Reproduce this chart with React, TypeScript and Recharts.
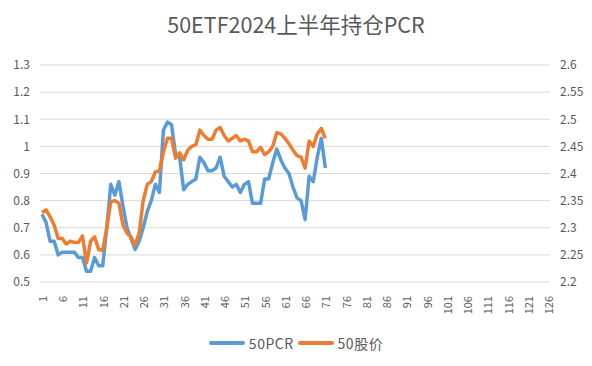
import { CartesianGrid, Line, LineChart, XAxis, YAxis } from "recharts";

const TOTAL_DAYS = 126;

// 50ETF put/call ratio (left axis)
const pcr = [
  0.75, 0.72, 0.65, 0.65, 0.6, 0.61, 0.61, 0.61, 0.61, 0.59,
  0.59, 0.54, 0.54, 0.59, 0.56, 0.56, 0.7, 0.86, 0.82, 0.87,
  0.78, 0.7, 0.66, 0.62, 0.65, 0.7, 0.76, 0.8, 0.86, 0.83,
  1.06, 1.09, 1.08, 0.97, 0.96, 0.84, 0.86, 0.87, 0.88, 0.96,
  0.94, 0.91, 0.91, 0.92, 0.96, 0.89, 0.87, 0.85, 0.86, 0.83,
  0.86, 0.87, 0.79, 0.79, 0.79, 0.88, 0.88, 0.94, 0.99, 0.95,
  0.92, 0.9, 0.85, 0.81, 0.8, 0.73, 0.89, 0.87, 0.96, 1.03,
  0.92,
];

// 50ETF price (right axis)
const price = [
  2.328, 2.333, 2.32, 2.305, 2.28, 2.28, 2.27, 2.275, 2.273, 2.273,
  2.285, 2.235, 2.275, 2.283, 2.26, 2.258, 2.3, 2.348, 2.35, 2.345,
  2.305, 2.29, 2.283, 2.268, 2.29, 2.35, 2.38, 2.385, 2.403, 2.405,
  2.44, 2.465, 2.465, 2.428, 2.438, 2.425, 2.443, 2.45, 2.453, 2.48,
  2.47, 2.463, 2.463, 2.48, 2.485, 2.47, 2.46, 2.465, 2.47, 2.46,
  2.463, 2.46, 2.44, 2.44, 2.448, 2.435, 2.44, 2.45, 2.475, 2.473,
  2.465, 2.455, 2.443, 2.433, 2.43, 2.41, 2.46, 2.45, 2.473, 2.483,
  2.465,
];

const leftTicks = [0.5, 0.6, 0.7, 0.8, 0.9, 1, 1.1, 1.2, 1.3];
const rightTicks = [2.2, 2.25, 2.3, 2.35, 2.4, 2.45, 2.5, 2.55, 2.6];

const BLUE = "#5B9BD5";
const ORANGE = "#ED7D31";
const TEXT = "#595959";
const FONT = "'Noto Sans CJK SC', 'Noto Sans', sans-serif";

const data = Array.from({ length: TOTAL_DAYS }, (_, i) => ({
  day: String(i + 1),
  pcr: i < pcr.length ? pcr[i] : null,
  price: i < price.length ? price[i] : null,
}));

function DayTick(props: any) {
  const { x, y, payload } = props;
  return (
    <text
      x={x}
      y={y + 6}
      transform={`rotate(-90 ${x} ${y + 6})`}
      textAnchor="end"
      dominantBaseline="central"
      fontSize={11}
      fill={TEXT}
      fontFamily={FONT}
    >
      {payload.value}
    </text>
  );
}

const swatch = (color: string) => ({
  display: "inline-block",
  width: 36,
  height: 4,
  borderRadius: 2,
  background: color,
  marginRight: 4,
});

export default function App() {
  return (
    <div style={{ position: "absolute", left: 0, top: 0, width: 592, height: 366, background: "#fff", fontFamily: FONT }}>
      <div
        style={{
          position: "absolute",
          top: 9,
          left: 0,
          width: 592,
          textAlign: "center",
          fontSize: 21.5,
          lineHeight: "30px",
          color: TEXT,
        }}
      >
        50ETF2024上半年持仓PCR
      </div>

      <LineChart width={592} height={366} data={data} margin={{ top: 65, right: 0, bottom: 0, left: 0 }}>
        <CartesianGrid vertical={false} stroke="#d9d9d9" yAxisId="left" />
        <XAxis
          dataKey="day"
          interval={4}
          height={84}
          axisLine={false}
          tickLine={false}
          tick={<DayTick />}
          padding={{ left: 2, right: 2 }}
        />
        <YAxis
          yAxisId="left"
          width={40}
          domain={[0.5, 1.3]}
          ticks={leftTicks}
          axisLine={false}
          tickLine={false}
          tickMargin={4}
          tick={{ fontSize: 12, fill: TEXT, fontFamily: FONT }}
        />
        <YAxis
          yAxisId="right"
          orientation="right"
          width={42}
          domain={[2.2, 2.6]}
          ticks={rightTicks}
          axisLine={false}
          tickLine={false}
          tickMargin={4}
          tick={{ fontSize: 12, fill: TEXT, fontFamily: FONT }}
        />
        <Line
          yAxisId="left"
          type="linear"
          dataKey="pcr"
          name="50PCR"
          stroke={BLUE}
          strokeWidth={3.5}
          dot={false}
          strokeLinejoin="round"
          isAnimationActive={false}
        />
        <Line
          yAxisId="right"
          type="linear"
          dataKey="price"
          name="50股价"
          stroke={ORANGE}
          strokeWidth={3.5}
          dot={false}
          strokeLinejoin="round"
          isAnimationActive={false}
        />
      </LineChart>

      <div
        style={{
          position: "absolute",
          top: 333,
          left: 0,
          width: 592,
          display: "flex",
          justifyContent: "center",
          alignItems: "center",
          fontSize: 14,
          lineHeight: "20px",
          color: TEXT,
        }}
      >
        <span style={swatch(BLUE)} />
        <span style={{ marginRight: 4, letterSpacing: 0.5 }}>50PCR</span>
        <span style={swatch(ORANGE)} />
        <span style={{ letterSpacing: 0.5 }}>50股价</span>
      </div>
    </div>
  );
}
